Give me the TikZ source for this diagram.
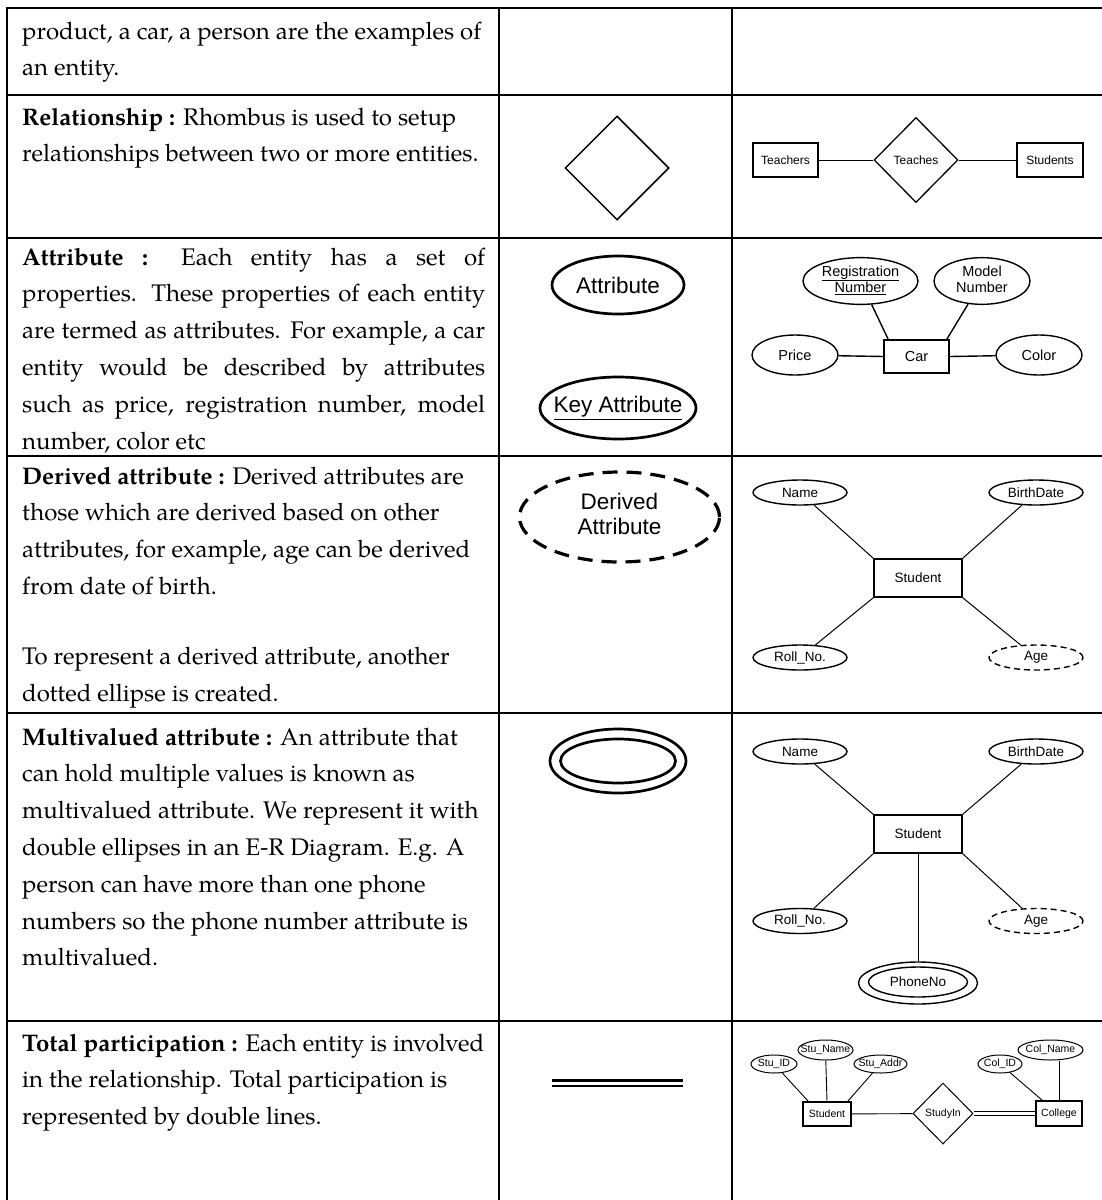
\documentclass[tikz,border=0pt]{standalone}
\usepackage{fontspec}
\setmainfont{texgyrepagella}[Extension=.otf, UprightFont=*-regular, BoldFont=*-bold, ItalicFont=*-italic, BoldItalicFont=*-bolditalic]
\newfontfamily\arialf{Liberation Sans}
\usetikzlibrary{shapes.geometric}

% font sizes (1pt = 1 output pixel)
\newcommand\fbody{\fontsize{24}{36.8}\selectfont}
\newcommand\fsym{\arialf\fontsize{22.5}{25}\selectfont}
\newcommand\fcar{\arialf\fontsize{14.5}{16.5}\selectfont}
\newcommand\ftea{\arialf\fontsize{12}{14}\selectfont}
\newcommand\fstu{\arialf\fontsize{13.5}{15}\selectfont}
\newcommand\ftot{\arialf\fontsize{10.5}{12}\selectfont}
% text that does not widen its shape
\newcommand\zerow[1]{\makebox[0pt]{#1}}
\newcommand\twoline[2]{\zerow{\begin{tabular}{@{}c@{}}#1\\#2\end{tabular}}}

\tikzset{
  grid line/.style={line width=2.7pt, line join=miter},
  para/.style={anchor=base west, inner sep=0pt},
  ent/.style={draw, rectangle, inner sep=0pt, line width=1.6pt},
  att/.style={draw, ellipse, inner sep=0pt, line width=1.4pt},
  rel/.style={draw, diamond, inner sep=0pt, line width=1.3pt},
  link/.style={line width=1pt},
  symb/.style={line width=2.7pt},
  derived/.style={dash pattern=on 6pt off 4pt},
}

\begin{document}
\begin{tikzpicture}[x=1pt, y=-1pt]
\useasboundingbox (0,0) rectangle (1102,1200);

% ---------- table rules ----------
\draw[grid line] (7,1200) -- (7,8) -- (1102,8);
\draw[grid line] (499,8) -- (499,1200);
\draw[grid line] (732,8) -- (732,1200);
\foreach \yy in {95,238,456,713,1021}
  \draw[grid line] (7,\yy) -- (1102,\yy);

% ---------- descriptions ----------
\node[para] (t1) at (22,39) {\parbox[t]{600pt}{\fbody\raggedright
product, a car, a person are the examples of\\
an entity.}};

\node[para] (t2) at (22,125) {\parbox[t]{600pt}{\fbody\raggedright
\textbf{Relationship :} Rhombus is used to setup\\
relationships between two or more entities.}};

\node[para] (t3) at (22,265) {\parbox[t]{600pt}{\fbody\raggedright
\makebox[463pt][s]{\textbf{Attribute :} Each entity has a set of}\\
\makebox[463pt][s]{properties. These properties of each entity}\\
\makebox[463pt][s]{are termed as attributes. For example, a car}\\
\makebox[463pt][s]{entity would be described by attributes}\\
\makebox[463pt][s]{such as price, registration number, model}\\
number, color etc}};

\node[para] (t4) at (22,484) {\parbox[t]{600pt}{\fbody\raggedright
\textbf{Derived attribute :} Derived attributes are\\
those which are derived based on other\\
attributes, for example, age can be derived\\
from date of birth.\\[33pt]
To represent a derived attribute, another\\
dotted ellipse is created.}};

\node[para] (t5) at (22,745) {\parbox[t]{600pt}{\fbody\raggedright
\textbf{Multivalued attribute :} An attribute that\\
can hold multiple values is known as\\
multivalued attribute. We represent it with\\
double ellipses in an E-R Diagram. E.g. A\\
person can have more than one phone\\
numbers so the phone number attribute is\\
multivalued.}};

\node[para] (t6) at (22,1051) {\parbox[t]{600pt}{\fbody\raggedright
\textbf{Total participation :} Each entity is involved\\
in the relationship. Total participation is\\
represented by double lines.}};

% ---------- symbols ----------
\node[rel, line width=1.5pt, minimum width=104pt, minimum height=104pt] (rhomb) at (617,168) {};

\node[att, symb, minimum width=132pt, minimum height=58pt, font=\fsym] (attrsym) at (618,285) {\zerow{Attribute}};
\node[att, symb, minimum width=156pt, minimum height=62pt, font=\fsym] (keysym) at (618,408) {\zerow{\underline{Key Attribute}}};

\node[att, line width=3.2pt, dash pattern=on 15pt off 9pt, minimum width=200pt, minimum height=90pt, font=\fsym] (dersym) at (619.5,517) {\twoline{Derived}{Attribute}};

\node[att, symb, minimum width=136pt, minimum height=64pt] (mvout) at (618,761) {};
\node[att, symb, minimum width=115pt, minimum height=44pt] (mvin) at (618,761) {};

\coordinate (tpa) at (552,1083);
\coordinate (tpb) at (683,1083);
\draw[line width=2.6pt, double, double distance=3pt] (tpa) -- (tpb);

% ---------- relationship example ----------
\begin{scope}[every node/.append style={font=\ftea}]
\node[ent, minimum width=65pt, minimum height=34pt] (teachers) at (785.5,160) {Teachers};
\node[rel, minimum width=84pt, minimum height=85pt] (teaches) at (916,160) {Teaches};
\node[ent, minimum width=66pt, minimum height=34pt] (students) at (1050,160) {Students};
\end{scope}
\draw[link] (teachers) -- (teaches);
\draw[link] (teaches) -- (students);

% ---------- attribute example ----------
\begin{scope}[every node/.append style={font=\fcar}]
\node[att, minimum width=115pt, minimum height=46pt] (regno) at (860.5,281) {\twoline{\underline{Registration}}{\underline{Number}}};
\node[att, minimum width=96pt, minimum height=46pt] (modelno) at (982,281) {\twoline{Model}{Number}};
\node[ent, line width=1.9pt, minimum width=65pt, minimum height=33pt] (car) at (916.5,356.5) {Car};
\node[att, minimum width=86pt, minimum height=40pt] (price) at (795,355) {\zerow{Price}};
\node[att, minimum width=86pt, minimum height=40pt] (color) at (1039,355) {\zerow{Color}};
\end{scope}
\draw[link, line width=1.4pt] (regno) -- ([xshift=5pt]car.north west);
\draw[link, line width=1.4pt] (modelno) -- ([xshift=-3pt]car.north east);
\draw[link, line width=1.4pt] (price) -- (car.west);
\draw[link, line width=1.4pt] (car.east) -- (color);

% ---------- derived attribute example ----------
\begin{scope}[every node/.append style={font=\fstu}]
\node[att, minimum width=94pt, minimum height=25pt] (name4) at (800,492.5) {\zerow{Name}};
\node[att, minimum width=94pt, minimum height=25pt] (bd4) at (1036,492.5) {\zerow{BirthDate}};
\node[ent, minimum width=88pt, minimum height=38pt] (st4) at (918,578) {Student};
\node[att, minimum width=94pt, minimum height=25pt] (roll4) at (800,657.5) {\zerow{Roll\_No.}};
\node[att, derived, minimum width=94pt, minimum height=25pt] (age4) at (1036,657.5) {\zerow{Age}};
\end{scope}
\draw[link] (name4) -- (st4.north west);
\draw[link] (bd4) -- (st4.north east);
\draw[link] (roll4) -- (st4.south west);
\draw[link] (age4) -- (st4.south east);

% ---------- multivalued attribute example ----------
\begin{scope}[every node/.append style={font=\fstu}]
\node[att, minimum width=94pt, minimum height=25pt] (name5) at (800,751.5) {\zerow{Name}};
\node[att, minimum width=94pt, minimum height=25pt] (bd5) at (1036,751.5) {\zerow{BirthDate}};
\node[ent, minimum width=88pt, minimum height=38pt] (st5) at (918,834) {Student};
\node[att, minimum width=94pt, minimum height=25pt] (roll5) at (800,921) {\zerow{Roll\_No.}};
\node[att, derived, minimum width=94pt, minimum height=25pt] (age5) at (1036,921) {\zerow{Age}};
\node[att, minimum width=119pt, minimum height=42pt] (phout) at (918,983) {};
\node[att, minimum width=99pt, minimum height=30pt] (phin) at (918,982) {\zerow{PhoneNo}};
\end{scope}
\draw[link] (name5) -- (st5.north west);
\draw[link] (bd5) -- (st5.north east);
\draw[link] (roll5) -- (st5.south west);
\draw[link] (age5) -- (st5.south east);
\draw[link] (st5) -- (phout);

% ---------- total participation example ----------
\begin{scope}[every node/.append style={font=\ftot}, att/.append style={line width=1pt}, ent/.append style={line width=1.2pt}, rel/.append style={line width=1pt}]
\node[att, minimum width=46pt, minimum height=18pt] (stuid) at (774,1064) {\zerow{Stu\_ID}};
\node[att, minimum width=55pt, minimum height=20pt] (stuname) at (825.5,1050) {\zerow{Stu\_Name}};
\node[att, minimum width=53pt, minimum height=18pt] (stuaddr) at (880.5,1064) {\zerow{Stu\_Addr}};
\node[ent, minimum width=48pt, minimum height=24pt] (stu6) at (827,1114) {Student};
\node[rel, minimum width=60pt, minimum height=61pt] (studyin) at (943,1113.5) {StudyIn};
\node[ent, minimum width=46pt, minimum height=25pt] (college) at (1059,1113.5) {College};
\node[att, minimum width=44pt, minimum height=18pt] (colid) at (1000,1064) {\zerow{Col\_ID}};
\node[att, minimum width=65pt, minimum height=20pt] (colname) at (1050.5,1050) {\zerow{Col\_Name}};
\end{scope}
\draw[link, line width=0.9pt] (stuid) -- ([xshift=6pt]stu6.north west);
\draw[link, line width=0.9pt] (stuname) -- (stu6.north);
\draw[link, line width=0.9pt] (stuaddr) -- ([xshift=-4pt]stu6.north east);
\draw[link, line width=0.9pt] (stu6) -- (studyin);
\draw[line width=0.9pt, double, double distance=2.6pt] (studyin) -- (college);
\draw[link, line width=0.9pt] (colid) -- ([xshift=7pt]college.north west);
\draw[link, line width=0.9pt] (colname.south -| college.north) -- (college.north);
\end{tikzpicture}
\end{document}
